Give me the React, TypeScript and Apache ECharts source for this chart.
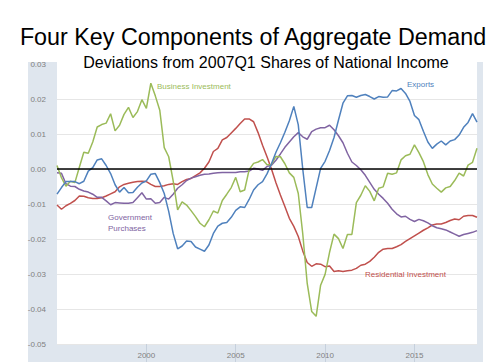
import React, { useEffect, useRef } from "react";
import * as echarts from "echarts";

// Quarterly categories 1995Q1 .. 2018Q3
const allQuarters: string[] = [];
for (let y = 1995; y <= 2018; y++) for (let q = 1; q <= 4; q++) allQuarters.push(`${y}Q${q}`);
const quarters = allQuarters.slice(0, 95);

const yearTicks = [2000, 2005, 2010, 2015];

const businessInvestment = [
  0.001, -0.0025, -0.0049, -0.0035, -0.0039, 0.0005, 0.0048, 0.0045, 0.0077, 0.012,
  0.0127, 0.0131, 0.0158, 0.0109, 0.0125, 0.0156, 0.0176, 0.0147, 0.0164, 0.0198,
  0.0173, 0.0245, 0.0209, 0.0168, 0.0061, 0.0035, -0.0034, -0.0117, -0.0094, -0.0103,
  -0.0119, -0.0136, -0.0155, -0.0165, -0.0145, -0.012, -0.0126, -0.009, -0.0072, -0.0053,
  -0.0024, -0.0065, -0.006, -0.0002, 0.0016, 0.002, 0.0027, 0.0012, 0.0013, 0.0036,
  0.0035, 0.0015, -0.0011, -0.0024, -0.007, -0.0185, -0.0327, -0.0407, -0.0421, -0.0332,
  -0.0301, -0.0238, -0.0186, -0.0199, -0.0227, -0.0187, -0.0187, -0.0096, -0.0075, -0.0048,
  -0.0064, -0.0091, -0.0055, -0.0051, -0.0012, -0.0015, -0.0011, 0.0026, 0.0038, 0.0042,
  0.0069, 0.0047, 0.0021, -0.0016, -0.0043, -0.0055, -0.0066, -0.0054, -0.005, -0.0033,
  -0.0012, -0.002, 0.0011, 0.0019, 0.0059,
];

const exports = [
  -0.0072, -0.0053, -0.0036, -0.0036, -0.0036, -0.0042, -0.0035, -0.0006, 0.0004, 0.0026,
  0.0029, 0.001, -0.0013, -0.0045, -0.0066, -0.0053, -0.0068, -0.0067, -0.0052, -0.004,
  -0.0034, -0.0015, -0.0013, -0.0039, -0.007, -0.0121, -0.0184, -0.0228, -0.022, -0.0206,
  -0.0207, -0.0223, -0.0229, -0.0235, -0.0217, -0.0184, -0.0163, -0.0155, -0.0153, -0.0138,
  -0.0118, -0.0108, -0.011, -0.0087, -0.006, -0.0045, -0.0036, -0.0014, 0.0015, 0.0048,
  0.0075, 0.0105, 0.0138, 0.0179, 0.0126, 0.0, -0.011, -0.011, -0.0054, 0.0002,
  0.0022, 0.0053, 0.009, 0.014, 0.0188, 0.0209, 0.021, 0.0205, 0.021, 0.0213,
  0.0207, 0.02, 0.0207, 0.0205, 0.0206, 0.0224, 0.0223, 0.023, 0.0216, 0.0193,
  0.0153, 0.0141, 0.0108, 0.0077, 0.0059, 0.0071, 0.008, 0.0069, 0.008, 0.0084,
  0.0097, 0.0119, 0.0133, 0.0158, 0.0134,
];

const residentialInvestment = [
  -0.0103, -0.0115, -0.0105, -0.0098, -0.009, -0.0077, -0.0078, -0.0082, -0.0084, -0.0084,
  -0.0082, -0.0077, -0.0071, -0.0065, -0.0051, -0.0044, -0.0041, -0.0038, -0.0036, -0.0035,
  -0.0036, -0.0044, -0.005, -0.005, -0.0048, -0.0044, -0.0042, -0.0044, -0.0036, -0.003,
  -0.0027, -0.0019, -0.0011, 0.0002, 0.002, 0.005, 0.0059, 0.0083, 0.009, 0.0103,
  0.0116, 0.013, 0.0143, 0.0143, 0.0135, 0.0104, 0.0068, 0.0035, 0.0, -0.0039,
  -0.0074, -0.0107, -0.0141, -0.0164, -0.0193, -0.0234, -0.0267, -0.0278, -0.0271, -0.0272,
  -0.0279, -0.0277, -0.0293, -0.0291, -0.0293, -0.0291, -0.0289, -0.0284, -0.0275, -0.0272,
  -0.0264, -0.0252, -0.0238, -0.0229, -0.0227, -0.0227, -0.0222, -0.0216, -0.0207, -0.0199,
  -0.0191, -0.0183, -0.0175, -0.0168, -0.016, -0.0157, -0.0157, -0.0153, -0.0147, -0.0143,
  -0.0145, -0.0135, -0.0133, -0.0133, -0.0138,
];

const governmentPurchases = [
  -0.0011, -0.0012, -0.0042, -0.0049, -0.005, -0.0058, -0.0063, -0.0066, -0.0072, -0.0081,
  -0.0081, -0.0091, -0.0102, -0.0096, -0.0097, -0.0098, -0.0098, -0.0096, -0.0082, -0.0068,
  -0.0086, -0.0085, -0.0098, -0.0096, -0.0081, -0.0086, -0.0072, -0.0055, -0.0045, -0.0033,
  -0.0026, -0.0022, -0.0018, -0.0015, -0.0014, -0.0012, -0.0011, -0.001, -0.001, -0.001,
  -0.001, -0.0008, -0.0008, -0.0006, 0.0002, 0.0, -0.0004, 0.0007, 0.0011, 0.0025,
  0.0043, 0.0062, 0.0077, 0.0092, 0.0104, 0.0092, 0.0085, 0.0107, 0.0114, 0.0118,
  0.0118, 0.0125, 0.0112, 0.0095, 0.0075, 0.0045, 0.002, 0.001, -0.0002, -0.0018,
  -0.0038, -0.0058, -0.0072, -0.0084, -0.0098, -0.0115, -0.0128, -0.0137, -0.0135, -0.0144,
  -0.015, -0.0144, -0.0148, -0.0154, -0.0162, -0.0168, -0.0171, -0.0174, -0.018, -0.0186,
  -0.0192, -0.0187, -0.0184, -0.0181, -0.0176,
];

const BLUE = "#4F81BD";
const RED = "#C0504D";
const GREEN = "#9BBB59";
const PURPLE = "#8064A2";
const FONT = "Liberation Sans, Arial, Helvetica, sans-serif";

const isYearTick = (idx: number) => {
  const q = quarters[idx];
  if (!q || !q.endsWith("Q1")) return false;
  return yearTicks.includes(parseInt(q.slice(0, 4), 10));
};

const lineSeries = (name: string, data: number[], color: string, extra: any = {}) => ({
  name,
  type: "line",
  data,
  symbol: "none",
  smooth: false,
  lineStyle: { color, width: 1.5 },
  itemStyle: { color },
  ...extra,
});

const labelText = (text: string, x: number, y: number, fill: string) => ({
  type: "text",
  x,
  y,
  z: 100,
  style: { text, fill, font: `8px ${FONT}`, textAlign: "left", textVerticalAlign: "middle" },
});

const option: any = {
  animation: false,
  backgroundColor: "transparent",
  textStyle: { fontFamily: FONT },
  grid: { left: 57, right: 23, top: 64, bottom: 18, containLabel: false },
  xAxis: {
    type: "category",
    data: quarters,
    boundaryGap: false,
    axisLine: { show: false, onZero: false },
    axisTick: {
      show: true,
      interval: (idx: number) => isYearTick(idx),
      length: 18,
      lineStyle: { color: "#c6d0dc", width: 1 },
    },
    axisLabel: {
      interval: (idx: number) => isYearTick(idx),
      formatter: (v: string) => v.slice(0, 4),
      color: "#808080",
      fontSize: 8,
      margin: 7,
      fontFamily: FONT,
    },
    splitLine: { show: false },
  },
  yAxis: {
    type: "value",
    min: -0.05,
    max: 0.03,
    interval: 0.01,
    axisLine: { show: false },
    axisTick: { show: false },
    axisLabel: {
      formatter: (v: number) => v.toFixed(2),
      color: "#808080",
      fontSize: 8,
      margin: 11,
      fontFamily: FONT,
    },
    splitLine: { show: true, lineStyle: { color: "#e6e6e6", width: 1 } },
  },
  series: [
    lineSeries("Residential Investment", residentialInvestment, RED),
    lineSeries("Government Purchases", governmentPurchases, PURPLE),
    lineSeries("Business Investment", businessInvestment, GREEN),
    lineSeries("Exports", exports, BLUE, {
      markLine: {
        silent: true,
        symbol: ["none", "none"],
        label: { show: false },
        lineStyle: { color: "#000", width: 1.5, type: "solid" },
        data: [{ yAxis: 0 }],
      },
    }),
  ],
  graphic: [
    {
      type: "rect",
      z: 90,
      shape: { x: 57, y: 62, width: 420, height: 4 },
      style: { fill: "#fff" },
    },
    {
      type: "text",
      x: 253,
      y: 37,
      z: 100,
      style: {
        text: "Four Key Components of Aggregate Demand",
        fill: "#000",
        font: `23.3px ${FONT}`,
        textAlign: "center",
        textVerticalAlign: "middle",
      },
    },
    {
      type: "text",
      x: 266,
      y: 62,
      z: 100,
      style: {
        text: "Deviations from 2007Q1 Shares of National Income",
        fill: "#000",
        font: `16px ${FONT}`,
        textAlign: "center",
        textVerticalAlign: "middle",
      },
    },
    labelText("Business Investment", 157, 86, GREEN),
    labelText("Exports", 407, 84, BLUE),
    labelText("Government", 108, 217, PURPLE),
    labelText("Purchases", 108, 228, PURPLE),
    labelText("Residential Investment", 365, 274, RED),
  ],
};

export default function App() {
  const ref = useRef<HTMLDivElement>(null);
  useEffect(() => {
    if (!ref.current) return;
    const chart = echarts.init(ref.current, null, { renderer: "svg" });
    chart.setOption(option);
    return () => chart.dispose();
  }, []);
  return (
    <div style={{ position: "fixed", left: 0, top: 0, width: 500, height: 362, background: "#fff", overflow: "hidden" }}>
      <div style={{ position: "absolute", left: 28, top: 62, width: 455, height: 300, background: "#dfe6ee" }} />
      <div style={{ position: "absolute", left: 57, top: 62, width: 420, height: 282, background: "#fff" }} />
      <div ref={ref} style={{ position: "absolute", left: 0, top: 0, width: 500, height: 362 }} />
    </div>
  );
}
